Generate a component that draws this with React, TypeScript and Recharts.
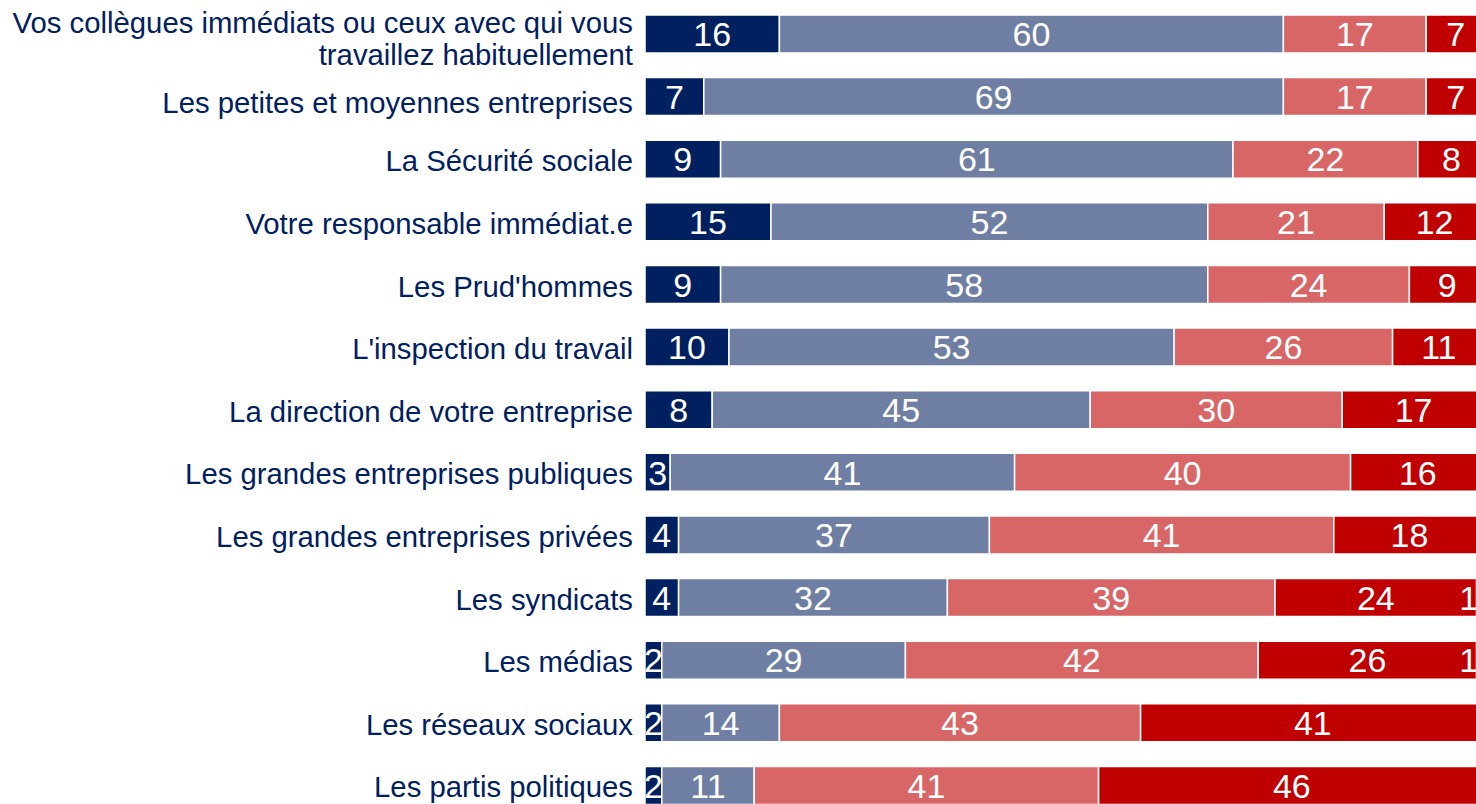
import { BarChart, Bar, XAxis, YAxis, LabelList } from "recharts";

const C_NAVY = "#002060";
const C_SLATE = "#6f7fa3";
const C_PINK = "#d96666";
const C_RED = "#c00000";
const C_NSP = "#a6a6a6";
const FONT = "'Liberation Sans', Arial, sans-serif";

const categories = [
  "Vos collègues immédiats ou ceux avec qui vous\ntravaillez habituellement",
  "Les petites et moyennes entreprises",
  "La Sécurité sociale",
  "Votre responsable immédiat.e",
  "Les Prud'hommes",
  "L'inspection du travail",
  "La direction de votre entreprise",
  "Les grandes entreprises publiques",
  "Les grandes entreprises privées",
  "Les syndicats",
  "Les médias",
  "Les réseaux sociaux",
  "Les partis politiques",
];

const tresConfiance = [16, 7, 9, 15, 9, 10, 8, 3, 4, 4, 2, 2, 2];
const plutotConfiance = [60, 69, 61, 52, 58, 53, 45, 41, 37, 32, 29, 14, 11];
const plutotPasConfiance = [17, 17, 22, 21, 24, 26, 30, 40, 41, 39, 42, 43, 41];
const pasDuToutConfiance = [7, 7, 8, 12, 9, 11, 17, 16, 18, 24, 26, 41, 46];
const nsp = [0, 0, 0, 0, 0, 0, 0, 0, 0, 1, 1, 0, 0];

const data = categories.map((name, i) => ({
  name,
  s1: tresConfiance[i],
  s2: plutotConfiance[i],
  s3: plutotPasConfiance[i],
  s4: pasDuToutConfiance[i],
  s5: nsp[i],
}));

function CategoryTick(props: any) {
  const { x, y, payload, index } = props;
  const lines = String(payload.value).split("\n");
  const lh = 32;
  // the reference sits the first labels a little lower
  const shift = index === 0 ? 4.5 : index === 1 ? 6 : 1.5;
  return (
    <text
      x={x}
      y={y}
      textAnchor="end"
      fill={C_NAVY}
      fontSize={29.3}
      fontFamily={FONT}
    >
      {lines.map((l, i) => (
        <tspan
          key={i}
          x={x}
          y={y + shift + (i - (lines.length - 1) / 2) * lh}
          dy="0.35em"
        >
          {l}
        </tspan>
      ))}
    </text>
  );
}

function ValueLabel(props: any) {
  const { x, y, width, height, value, dx = 0 } = props;
  if (!value) return null;
  return (
    <text
      x={x + width / 2 + dx}
      y={y + height / 2}
      dy="0.36em"
      textAnchor="middle"
      fill="#ffffff"
      fontSize={34}
      fontFamily={FONT}
    >
      {value}
    </text>
  );
}

export default function App() {
  return (
    <div
      style={{
        position: "absolute",
        left: 0,
        top: 0,
        width: 1476,
        height: 804,
        overflow: "hidden",
        background: "#ffffff",
      }}
    >
      <BarChart
        width={1485}
        height={817}
        data={data}
        layout="vertical"
        margin={{ top: 3, right: 0, bottom: 0, left: 0 }}
        barSize={38}
      >
        <XAxis type="number" domain={[0, 100]} hide />
        <YAxis
          type="category"
          dataKey="name"
          width={645}
          axisLine={false}
          tickLine={false}
          tickSize={0}
          tickMargin={12}
          tick={<CategoryTick />}
          interval={0}
        />
        <Bar dataKey="s1" stackId="a" fill={C_NAVY} stroke="#fff" strokeWidth={1.5} isAnimationActive={false}>
          <LabelList dataKey="s1" content={<ValueLabel />} />
        </Bar>
        <Bar dataKey="s2" stackId="a" fill={C_SLATE} stroke="#fff" strokeWidth={1.5} isAnimationActive={false}>
          <LabelList dataKey="s2" content={<ValueLabel />} />
        </Bar>
        <Bar dataKey="s3" stackId="a" fill={C_PINK} stroke="#fff" strokeWidth={1.5} isAnimationActive={false}>
          <LabelList dataKey="s3" content={<ValueLabel />} />
        </Bar>
        <Bar dataKey="s4" stackId="a" fill={C_RED} stroke="#fff" strokeWidth={1.5} isAnimationActive={false}>
          <LabelList dataKey="s4" content={<ValueLabel />} />
        </Bar>
        <Bar dataKey="s5" stackId="a" fill={C_NSP} stroke="#fff" strokeWidth={1.5} isAnimationActive={false}>
          <LabelList dataKey="s5" content={<ValueLabel dx={-12} />} />
        </Bar>
      </BarChart>
    </div>
  );
}
